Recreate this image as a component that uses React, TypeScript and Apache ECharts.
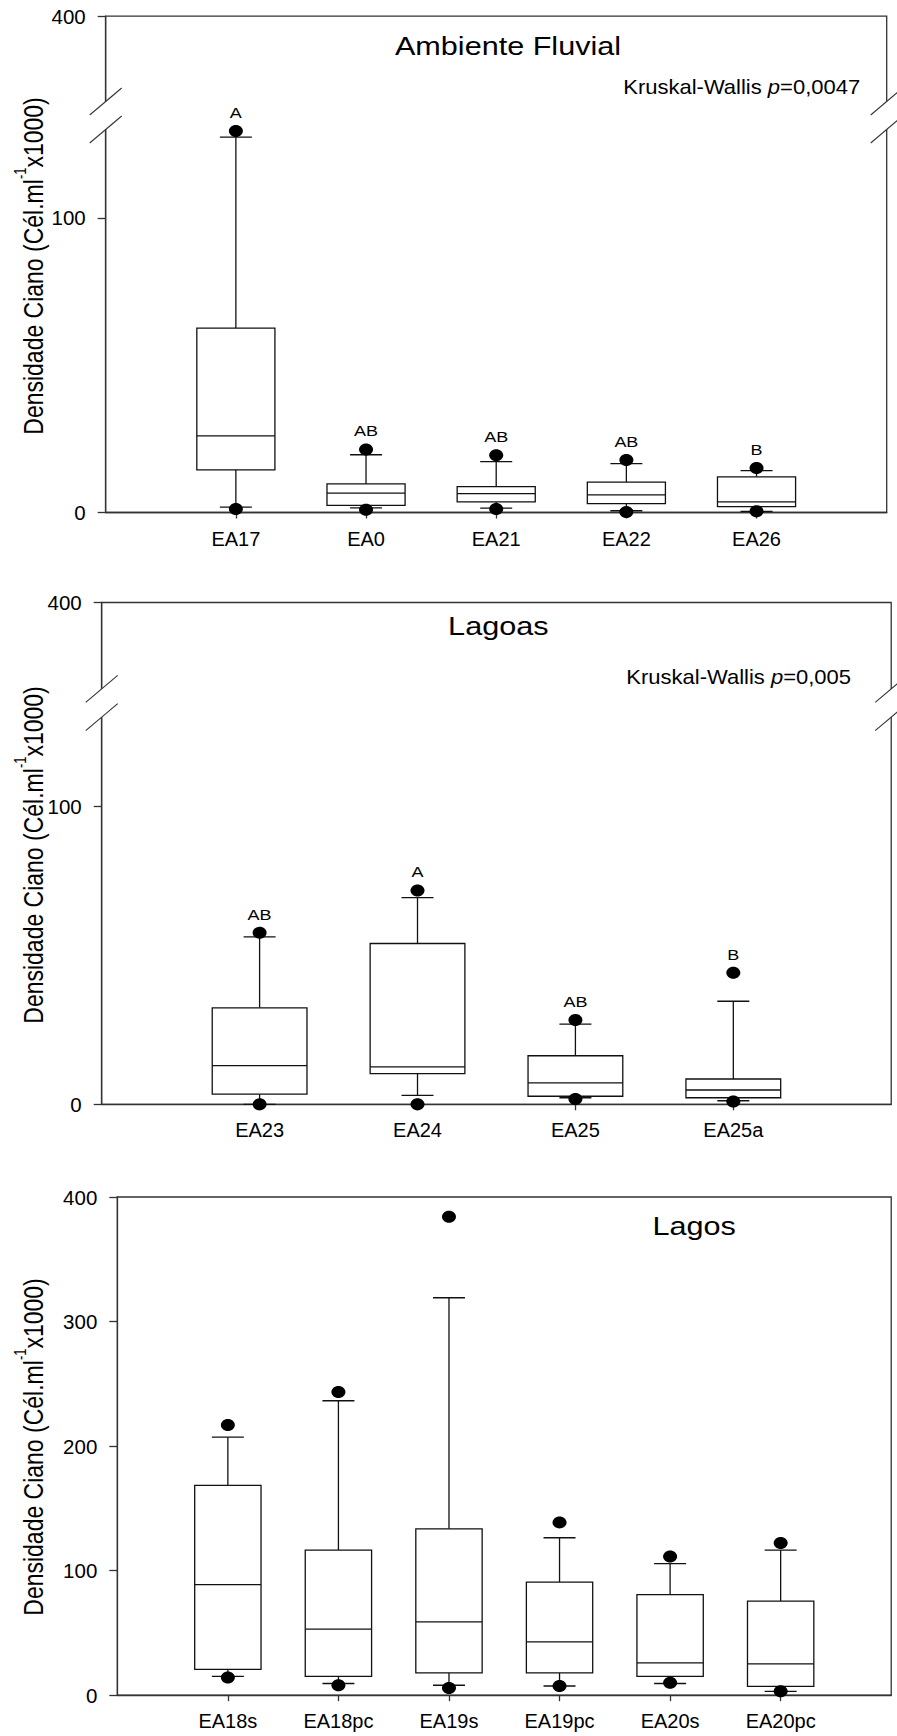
import React, { useEffect, useRef } from 'react';
import * as echarts from 'echarts';

const FONT = '"Liberation Sans", Arial, Helvetica, sans-serif';

// ---------- Ambiente Fluvial ----------
const fluvialCategories = ['EA17', 'EA0', 'EA21', 'EA22', 'EA26'];
const fluvialLowDot = [1.2, 0.9, 1.2, 0.2, 0.4];
const fluvialLowWhisker = [1.8, 1.6, 1.5, 0.6, 0.4];
const fluvialQ1 = [14.5, 2.4, 3.6, 3.0, 2.0];
const fluvialMedian = [26.0, 6.6, 6.4, 6.0, 3.6];
const fluvialQ3 = [62.6, 9.7, 8.8, 10.3, 12.1];
const fluvialHighWhisker = [127.4, 19.6, 17.3, 16.6, 14.2];
const fluvialHighDot = [129.5, 21.4, 19.4, 17.8, 15.1];
const fluvialLetters = ['A', 'AB', 'AB', 'AB', 'B'];

// ---------- Lagoas ----------
const lagoasCategories = ['EA23', 'EA24', 'EA25', 'EA25a'];
const lagoasLowDot = [0, 0, 1.8, 0.9];
const lagoasLowWhisker = [0, 3.0, 2.2, 1.2];
const lagoasQ1 = [3.4, 10.3, 2.7, 2.2];
const lagoasMedian = [13.0, 12.6, 7.2, 4.8];
const lagoasQ3 = [32.4, 54.0, 16.3, 8.5];
const lagoasHighWhisker = [56.2, 69.4, 26.9, 34.6];
const lagoasHighDot = [57.6, 71.8, 28.3, 44.2];
const lagoasLetters = ['AB', 'A', 'AB', 'B'];

// ---------- Lagos ----------
const lagosCategories = ['EA18s', 'EA18pc', 'EA19s', 'EA19pc', 'EA20s', 'EA20pc'];
const lagosLowDot = [14.2, 8.0, 5.7, 7.4, 9.9, 3.1];
const lagosLowWhisker = [15.1, 9.4, 8.0, 7.4, 9.4, 3.1];
const lagosQ1 = [20.8, 15.1, 18.0, 18.0, 15.1, 7.1];
const lagosMedian = [88.7, 53.1, 58.8, 42.8, 25.9, 25.1];
const lagosQ3 = [168.4, 116.5, 133.6, 90.8, 80.8, 75.6];
const lagosHighWhisker = [207.2, 236.4, 319.1, 126.4, 105.6, 116.5];
const lagosHighDot = [216.9, 243.5, 384.2, 138.7, 111.3, 122.1];
const lagosLetters = ['', '', '', '', '', ''];

// tick labels
const brokenTickValues = [0, 100, 400];
const lagosTickValues = [0, 100, 200, 300, 400];

const titles = ['Ambiente Fluvial', 'Lagoas', 'Lagos'];
const kruskalP = ['0,0047', '0,005', ''];
const yAxisName = '{a|Densidade Ciano (Cél.ml}{s|-1}{a|x1000)}';

// ---------- broken axis transform ----------
const BREAK_LOW = 130;
const BREAK_HIGH = 370;
const BREAK_GAP = 9.5;
const AXIS_TOP = 400;
const UPPER_SPAN = 29;
const TOP_DISPLAY = BREAK_LOW + BREAK_GAP + UPPER_SPAN;

function toDisplay(v: number): number {
  if (v <= BREAK_LOW) return v;
  if (v >= BREAK_HIGH) return BREAK_LOW + BREAK_GAP + ((v - BREAK_HIGH) * UPPER_SPAN) / (AXIS_TOP - BREAK_HIGH);
  return BREAK_LOW + ((v - BREAK_LOW) / (BREAK_HIGH - BREAK_LOW)) * BREAK_GAP;
}
function fromDisplay(d: number): number {
  if (d <= BREAK_LOW) return d;
  if (d >= BREAK_LOW + BREAK_GAP) return BREAK_HIGH + ((d - BREAK_LOW - BREAK_GAP) * (AXIS_TOP - BREAK_HIGH)) / UPPER_SPAN;
  return BREAK_LOW + ((d - BREAK_LOW) / BREAK_GAP) * (BREAK_HIGH - BREAK_LOW);
}

type Panel = {
  cats: string[];
  lowDot: number[];
  lowW: number[];
  q1: number[];
  med: number[];
  q3: number[];
  highW: number[];
  highDot: number[];
  letters: string[];
  broken: boolean;
  grid: { left: number; top: number; width: number; height: number };
  title: { x: number; y: number };
  kw: { x: number; y: number };
  nameY: number;
};

const panels: Panel[] = [
  {
    cats: fluvialCategories, lowDot: fluvialLowDot, lowW: fluvialLowWhisker, q1: fluvialQ1,
    med: fluvialMedian, q3: fluvialQ3, highW: fluvialHighWhisker, highDot: fluvialHighDot,
    letters: fluvialLetters, broken: true,
    grid: { left: 105.7, top: 16.1, width: 781, height: 496.4 },
    title: { x: 508, y: 46.4 }, kw: { x: 741.7, y: 86.4 }, nameY: 266,
  },
  {
    cats: lagoasCategories, lowDot: lagoasLowDot, lowW: lagoasLowWhisker, q1: lagoasQ1,
    med: lagoasMedian, q3: lagoasQ3, highW: lagoasHighWhisker, highDot: lagoasHighDot,
    letters: lagoasLetters, broken: true,
    grid: { left: 101.7, top: 602.5, width: 790, height: 501.8 },
    title: { x: 498.3, y: 626.4 }, kw: { x: 738.7, y: 676.4 }, nameY: 855,
  },
  {
    cats: lagosCategories, lowDot: lagosLowDot, lowW: lagosLowWhisker, q1: lagosQ1,
    med: lagosMedian, q3: lagosQ3, highW: lagosHighWhisker, highDot: lagosHighDot,
    letters: lagosLetters, broken: false,
    grid: { left: 117.3, top: 1197, width: 782, height: 498.2 },
    title: { x: 694.2, y: 1226.1 }, kw: { x: 0, y: 0 }, nameY: 1447,
  },
];

const AXIS_COLOR = '#333';
const BOX_COLOR = '#111';

function makeRenderItem(letters: string[]) {
  return (params: any, api: any) => {
    const xi = api.value(0);
    const pt = (k: number) => api.coord([xi, api.value(k)]);
    const cx = pt(1)[0];
    const yLowDot = pt(1)[1];
    const yLowW = pt(2)[1];
    const yQ1 = pt(3)[1];
    const yMed = pt(4)[1];
    const yQ3 = pt(5)[1];
    const yHighW = pt(6)[1];
    const yHighDot = pt(7)[1];
    const band = api.size([1, 0])[0];
    const bw = band * 0.6;
    const cap = 16;
    const ls = { stroke: BOX_COLOR, lineWidth: 1.3, fill: null };
    const children: any[] = [
      { type: 'line', shape: { x1: cx, y1: yLowW, x2: cx, y2: yQ1 }, style: ls },
      { type: 'line', shape: { x1: cx, y1: yQ3, x2: cx, y2: yHighW }, style: ls },
      { type: 'rect', shape: { x: cx - bw / 2, y: yQ3, width: bw, height: yQ1 - yQ3 }, style: { fill: '#fff', stroke: BOX_COLOR, lineWidth: 1.3 } },
      { type: 'line', shape: { x1: cx - bw / 2, y1: yMed, x2: cx + bw / 2, y2: yMed }, style: ls },
      { type: 'line', shape: { x1: cx - cap, y1: yLowW, x2: cx + cap, y2: yLowW }, style: ls },
      { type: 'line', shape: { x1: cx - cap, y1: yHighW, x2: cx + cap, y2: yHighW }, style: ls },
      { type: 'ellipse', shape: { cx: cx, cy: yLowDot, rx: 7, ry: 6 }, style: { fill: '#000' } },
      { type: 'ellipse', shape: { cx: cx, cy: yHighDot, rx: 7, ry: 6 }, style: { fill: '#000' } },
    ];
    const letter = letters[params.dataIndex];
    if (letter) {
      children.push({
        type: 'text',
        x: cx,
        y: yHighDot - 18,
        scaleX: 1.2,
        style: {
          text: letter, fill: '#000', fontSize: 15, fontFamily: FONT,
          align: 'center', verticalAlign: 'middle', textAlign: 'center', textVerticalAlign: 'middle',
        },
      });
    }
    return { type: 'group', children };
  };
}

export default function App() {
  const ref = useRef<HTMLDivElement>(null);

  useEffect(() => {
    document.body.style.margin = '0';
    if (!ref.current) return;
    const chart = echarts.init(ref.current, null, { renderer: 'svg' });

    const grids: any[] = [];
    const xAxes: any[] = [];
    const yAxes: any[] = [];
    const series: any[] = [];

    panels.forEach((p, i) => {
      const tf = p.broken ? toDisplay : (v: number) => v;
      grids.push({
        ...p.grid,
        show: true,
        borderColor: AXIS_COLOR,
        borderWidth: 1.3,
        backgroundColor: 'rgba(0,0,0,0)',
        containLabel: false,
      });
      const n = p.cats.length;
      xAxes.push({
        gridIndex: i,
        type: 'category',
        data: ['', ...p.cats, ' '],
        boundaryGap: false,
        axisLine: { show: true, lineStyle: { color: AXIS_COLOR, width: 1.3 } },
        axisTick: {
          show: true,
          length: 6,
          interval: (idx: number) => idx > 0 && idx <= n,
          lineStyle: { color: AXIS_COLOR, width: 1.3 },
        },
        axisLabel: { interval: 0, margin: 16, fontSize: 20, color: '#000', fontFamily: FONT },
        splitLine: { show: false },
      });
      if (p.broken) {
        const custom = brokenTickValues.map((v) => toDisplay(v));
        yAxes.push({
          gridIndex: i,
          type: 'value',
          min: 0,
          max: TOP_DISPLAY,
          axisLine: { show: true, lineStyle: { color: AXIS_COLOR, width: 1.3 } },
          axisTick: { show: true, length: 8, customValues: custom, lineStyle: { color: AXIS_COLOR, width: 1.3 } },
          axisLabel: {
            customValues: custom,
            margin: 20,
            fontSize: 20.5,
            color: '#000',
            fontFamily: FONT,
            formatter: (v: number) => String(Math.round(fromDisplay(v))),
          },
          splitLine: { show: false },
        });
      } else {
        yAxes.push({
          gridIndex: i,
          type: 'value',
          min: lagosTickValues[0],
          max: lagosTickValues[lagosTickValues.length - 1],
          interval: lagosTickValues[1] - lagosTickValues[0],
          axisLine: { show: true, lineStyle: { color: AXIS_COLOR, width: 1.3 } },
          axisTick: { show: true, length: 8, lineStyle: { color: AXIS_COLOR, width: 1.3 } },
          axisLabel: { margin: 20, fontSize: 20.5, color: '#000', fontFamily: FONT },
          splitLine: { show: false },
        });
      }
      const data = p.cats.map((_, k) => [
        k + 1,
        tf(p.lowDot[k]), tf(p.lowW[k]), tf(p.q1[k]), tf(p.med[k]),
        tf(p.q3[k]), tf(p.highW[k]), tf(p.highDot[k]),
      ]);
      series.push({
        type: 'custom',
        xAxisIndex: i,
        yAxisIndex: i,
        coordinateSystem: 'cartesian2d',
        clip: false,
        z: 5,
        encode: { x: 0, y: [1, 2, 3, 4, 5, 6, 7] },
        renderItem: makeRenderItem(p.letters),
        data,
      });
    });

    chart.setOption({
      animation: false,
      backgroundColor: '#fff',
      grid: grids,
      xAxis: xAxes,
      yAxis: yAxes,
      series,
    });

    const graphics: any[] = [];
    panels.forEach((p, i) => {
      graphics.push({
        type: 'text', x: p.title.x, y: p.title.y, scaleX: 1.2, z: 100,
        style: {
          text: titles[i], fill: '#000', fontSize: 25.5, fontFamily: FONT,
          textAlign: 'center', textVerticalAlign: 'middle',
        },
      });
      if (kruskalP[i]) {
        graphics.push({
          type: 'text', x: p.kw.x, y: p.kw.y, scaleX: 1.1, z: 100,
          style: {
            text: '{n|Kruskal-Wallis }{i|p}{n|=' + kruskalP[i] + '}',
            rich: {
              n: { fontSize: 20, fontFamily: FONT, fill: '#000' },
              i: { fontSize: 20, fontFamily: FONT, fontStyle: 'italic', fill: '#000' },
            },
            textAlign: 'center', textVerticalAlign: 'middle',
          },
        });
      }
      graphics.push({
        type: 'text', x: 30, y: p.nameY, rotation: Math.PI / 2, scaleY: 1.2, z: 100,
        style: {
          text: yAxisName,
          rich: {
            a: { fontSize: 23, fontFamily: FONT, fill: '#000', lineHeight: 28, verticalAlign: 'bottom' },
            s: { fontSize: 13, fontFamily: FONT, fill: '#000', verticalAlign: 'top' },
          },
          textAlign: 'center', textVerticalAlign: 'middle',
        },
      });
      if (p.broken) {
        const n = p.cats.length;
        const yLow = chart.convertToPixel({ gridIndex: i } as any, [0, BREAK_LOW]) as number[];
        const yHigh = chart.convertToPixel({ gridIndex: i } as any, [0, BREAK_LOW + BREAK_GAP]) as number[];
        const xRight = chart.convertToPixel({ gridIndex: i } as any, [n + 1, 0]) as number[];
        const xs = [yLow[0], xRight[0]];
        const dx = 16;
        const dy = 13.5;
        xs.forEach((x) => {
          const y1 = yLow[1];
          const y2 = yHigh[1];
          graphics.push({
            type: 'polygon', z: 100,
            shape: { points: [[x - dx, y1 + dy], [x + dx, y1 - dy], [x + dx, y2 - dy], [x - dx, y2 + dy]] },
            style: { fill: '#fff', stroke: null },
          });
          graphics.push({
            type: 'line', z: 101,
            shape: { x1: x - dx, y1: y1 + dy, x2: x + dx, y2: y1 - dy },
            style: { stroke: AXIS_COLOR, lineWidth: 1.1 },
          });
          graphics.push({
            type: 'line', z: 101,
            shape: { x1: x - dx, y1: y2 + dy, x2: x + dx, y2: y2 - dy },
            style: { stroke: AXIS_COLOR, lineWidth: 1.1 },
          });
        });
      }
    });

    chart.setOption({ graphic: graphics });

    return () => {
      chart.dispose();
    };
  }, []);

  return <div ref={ref} style={{ width: 897, height: 1736 }} />;
}
